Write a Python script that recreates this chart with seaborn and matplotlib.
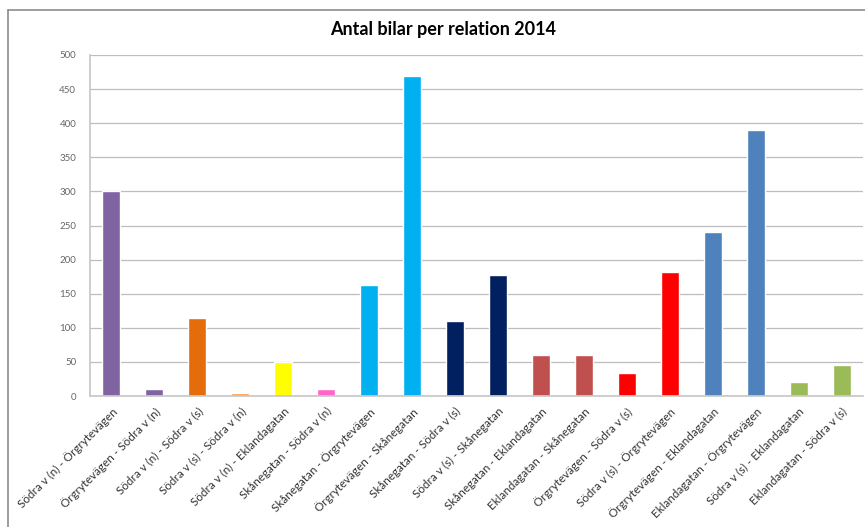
import matplotlib
matplotlib.use("Agg")
import matplotlib.pyplot as plt
import seaborn as sns
import pandas as pd
from matplotlib.lines import Line2D

categories = [
    "Södra v (n) - Örgrytevägen",
    "Örgrytevägen - Södra v (n)",
    "Södra v (n) - Södra v (s)",
    "Södra v (s) - Södra v (n)",
    "Södra v (n) - Eklandagatan",
    "Skånegatan - Södra v (n)",
    "Skånegatan - Örgrytevägen",
    "Örgrytevägen - Skånegatan",
    "Skånegatan - Södra v (s)",
    "Södra v (s) - Skånegatan",
    "Skånegatan - Eklandagatan",
    "Eklandagatan - Skånegatan",
    "Örgrytevägen - Södra v (s)",
    "Södra v (s) - Örgrytevägen",
    "Örgrytevägen - Eklandagatan",
    "Eklandagatan - Örgrytevägen",
    "Södra v (s) - Eklandagatan",
    "Eklandagatan - Södra v (s)",
]
values = [300, 10, 115, 5, 50, 10, 163, 469, 110, 178, 60, 60, 34, 182, 240, 390, 20, 46]
colors = ["#8064A2", "#8064A2", "#E46C0A", "#F79646", "#FFFF00", "#FF66CC",
          "#00B0F0", "#00B0F0", "#002060", "#002060", "#C0504D", "#C0504D",
          "#FF0000", "#FF0000", "#4F81BD", "#4F81BD", "#9BBB59", "#9BBB59"]
yticks = list(range(0, 501, 50))
title = "Antal bilar per relation 2014"

sns.set_theme(style="white")
plt.rcParams["font.family"] = ["Lato", "DejaVu Sans"]

df = pd.DataFrame({"rel": categories, "antal": values})

fig = plt.figure(figsize=(8.65, 5.27), dpi=100)
ax = fig.add_axes([90 / 865, 1 - 396 / 527, (863 - 90) / 865, (396 - 55) / 527])

sns.barplot(data=df, x="rel", y="antal", hue="rel", palette=colors,
            legend=False, width=0.42, ax=ax, saturation=1)

ax.set_ylim(0, 500)
ax.set_xlim(-0.5, len(categories) - 0.5)
ax.set_yticks(yticks)
ax.set_yticklabels([str(t) for t in yticks], fontsize=7, color="#666666")
ax.yaxis.grid(True, color="#BDBDBD", linewidth=0.9)
ax.set_axisbelow(True)
ax.set_xlabel("")
ax.set_ylabel("")
ax.set_xticks(range(len(categories)))
ax.set_xticklabels(categories, rotation=45, ha="right", rotation_mode="anchor",
                   fontsize=8.4, color="#333333")
ax.tick_params(axis="x", length=0, pad=7)
ax.tick_params(axis="y", length=0, pad=10)
for s in ["top", "right"]:
    ax.spines[s].set_visible(False)
ax.spines["left"].set_color("#C8C8C8")
ax.spines["bottom"].set_color("#C8C8C8")

fig.text(443 / 865, 1 - 30 / 527, title, ha="center", va="center",
         fontsize=13, fontweight="bold", color="#000000")

# outer chart border (left and top visible)
fig.add_artist(Line2D([8 / 865, 8 / 865], [0, 1 - 10 / 527], color="#8C8C8C", linewidth=1.2,
                      transform=fig.transFigure))
fig.add_artist(Line2D([8 / 865, 1], [1 - 10 / 527, 1 - 10 / 527], color="#8C8C8C", linewidth=1.2,
                      transform=fig.transFigure))

fig.savefig("out.png", dpi=100)
